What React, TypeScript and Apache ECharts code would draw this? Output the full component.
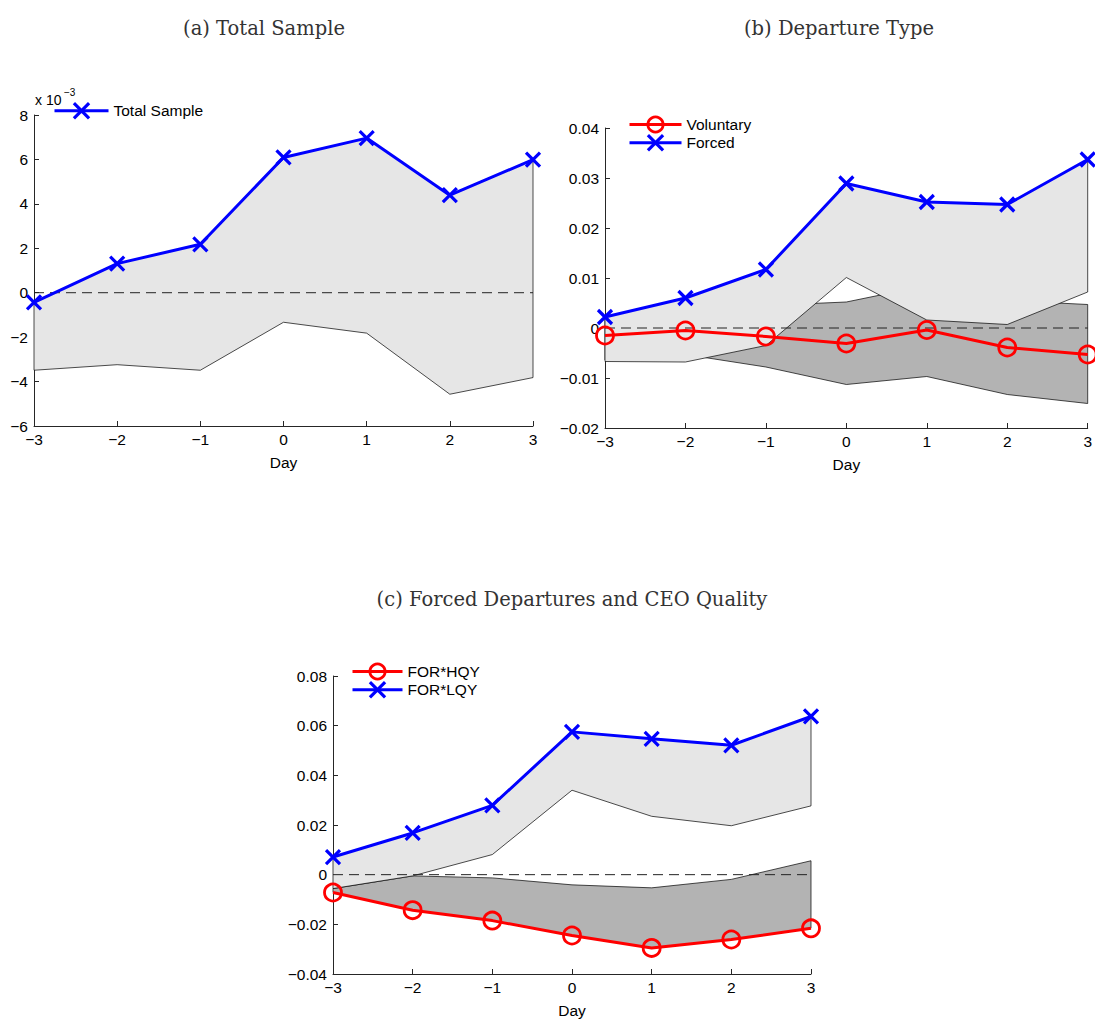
import React, { useEffect, useRef } from 'react';
import * as echarts from 'echarts';

// ---------- data ----------
const days = [-3, -2, -1, 0, 1, 2, 3];

// (a) Total Sample, values in units of 10^-3
const yTicksA = [-6, -4, -2, 0, 2, 4, 6, 8];
const totalSample = [-0.43, 1.31, 2.18, 6.09, 6.96, 4.39, 5.99];
const totalLower = [-3.49, -3.24, -3.49, -1.33, -1.82, -4.57, -3.82];

// (b) Departure Type
const yTicksB = [-0.02, -0.01, 0, 0.01, 0.02, 0.03, 0.04];
const voluntary = [-0.0015, -0.0005, -0.0017, -0.0031, -0.0004, -0.0039, -0.0053];
const voluntaryUpper = [0.002, 0.0043, 0.0045, 0.0052, 0.0085, 0.0055, 0.0047];
const voluntaryLower = [-0.0064, -0.0053, -0.0078, -0.0113, -0.0097, -0.0133, -0.0151];
const forced = [0.0022, 0.006, 0.0117, 0.0289, 0.0252, 0.0247, 0.0337];
const forcedLower = [-0.0067, -0.0068, -0.0035, 0.0101, 0.0016, 0.0007, 0.0072];

// (c) Forced Departures and CEO Quality
const yTicksC = [-0.04, -0.02, 0, 0.02, 0.04, 0.06, 0.08];
const forLQY = [0.0071, 0.0168, 0.0279, 0.0575, 0.0547, 0.0521, 0.0637];
const forLQYLower = [-0.0056, -0.0005, 0.0081, 0.034, 0.0235, 0.0197, 0.0277];
const forHQY = [-0.0072, -0.0143, -0.0185, -0.0245, -0.0295, -0.0261, -0.0216];
const forHQYUpper = [-0.0056, -0.0005, -0.0013, -0.0041, -0.0053, -0.0019, 0.0056];

const titles = ['(a) Total Sample', '(b) Departure Type', '(c) Forced Departures and CEO Quality'];

// ---------- styles ----------
const SANS = 'Liberation Sans';
const SERIF = 'DejaVu Serif';
const FS = 15.5;
const AXIS_COLOR = '#262626';
const BLUE = '#0000ff';
const RED = '#ff0000';
const LIGHT = '#e6e6e6';
const DARK = '#b3b3b3';
const X_PATH = 'path://M0,0L10,10M10,0L0,10';

const minus = (s: string) => s.replace('-', '\u2212');

const crossItemStyle = { color: BLUE, borderColor: BLUE, borderWidth: 3.2 };
const circleItemStyle = { color: 'rgba(0,0,0,0)', borderColor: RED, borderWidth: 2.8 };

function xAxis(gridIndex: number) {
  return {
    type: 'value',
    gridIndex,
    min: days[0],
    max: days[days.length - 1],
    interval: 1,
    name: 'Day',
    nameLocation: 'middle',
    nameGap: 28,
    nameTextStyle: { fontFamily: SANS, fontSize: FS, color: '#000' },
    axisLine: { show: true, onZero: false, lineStyle: { color: AXIS_COLOR, width: 1 } },
    axisTick: { show: true, inside: true, length: 5, lineStyle: { color: AXIS_COLOR } },
    axisLabel: {
      margin: 5,
      fontFamily: SANS,
      fontSize: FS,
      color: '#000',
      formatter: (v: number) => minus(String(v)),
    },
    splitLine: { show: false },
  };
}

function yAxis(gridIndex: number, ticks: number[], fmt: (v: number) => string) {
  return {
    type: 'value',
    gridIndex,
    min: ticks[0],
    max: ticks[ticks.length - 1],
    interval: ticks[1] - ticks[0],
    axisLine: { show: true, onZero: false, lineStyle: { color: AXIS_COLOR, width: 1 } },
    axisTick: { show: true, inside: true, length: 5, lineStyle: { color: AXIS_COLOR } },
    axisLabel: {
      margin: 6,
      fontFamily: SANS,
      fontSize: FS,
      color: '#000',
      formatter: (v: number) => (Math.abs(v) < 1e-9 ? '0' : minus(fmt(v))),
    },
    splitLine: { show: false },
  };
}

function band(idx: number, upper: number[], lower: number[], fill: string, z: number) {
  return {
    type: 'custom',
    name: 'band' + idx + fill,
    xAxisIndex: idx,
    yAxisIndex: idx,
    z,
    silent: true,
    data: days.map((d, i) => [d, upper[i]]),
    renderItem: (params: any, api: any) => {
      if (params.dataIndex !== 0) return null;
      const top = days.map((d, i) => api.coord([d, upper[i]]));
      const bot = days.map((d, i) => api.coord([d, lower[i]])).reverse();
      return {
        type: 'polygon',
        shape: { points: top.concat(bot) },
        style: { fill, stroke: '#000', lineWidth: 0.7 },
      };
    },
  };
}

function zeroLine(idx: number) {
  return {
    type: 'line',
    name: 'zero' + idx,
    xAxisIndex: idx,
    yAxisIndex: idx,
    z: 3,
    silent: true,
    symbol: 'none',
    data: [
      [days[0], 0],
      [days[days.length - 1], 0],
    ],
    lineStyle: { color: '#222', width: 1, type: [10, 6] },
  };
}

function crossLine(idx: number, name: string, values: number[]) {
  return {
    type: 'line',
    name,
    xAxisIndex: idx,
    yAxisIndex: idx,
    z: 5,
    data: days.map((d, i) => [d, values[i]]),
    symbol: X_PATH,
    symbolSize: 14,
    showSymbol: true,
    lineStyle: { color: BLUE, width: 3 },
    itemStyle: crossItemStyle,
    emphasis: { disabled: true },
  };
}

function circleLine(idx: number, name: string, values: number[]) {
  return {
    type: 'line',
    name,
    xAxisIndex: idx,
    yAxisIndex: idx,
    z: 5,
    data: days.map((d, i) => [d, values[i]]),
    symbol: 'circle',
    symbolSize: 17,
    showSymbol: true,
    lineStyle: { color: RED, width: 3 },
    itemStyle: circleItemStyle,
    emphasis: { disabled: true },
  };
}

function legendItem(name: string, kind: 'x' | 'o') {
  return {
    name,
    itemStyle: kind === 'x' ? crossItemStyle : circleItemStyle,
    lineStyle: { color: kind === 'x' ? BLUE : RED, width: 3 },
  };
}

function legend(items: any[], left: number, top: number, itemWidth: number) {
  return {
    data: items,
    left,
    top,
    orient: 'vertical',
    itemWidth,
    itemHeight: 19,
    itemGap: 0,
    padding: 0,
    selectedMode: false,
    textStyle: { fontFamily: SANS, fontSize: FS, color: '#000' },
  };
}

const titleFont = `19.5px "${SERIF}"`;

const option: any = {
  animation: false,
  backgroundColor: '#fff',
  grid: [
    { left: 34, top: 115, width: 499, height: 311 },
    { left: 605, top: 128, width: 484, height: 300 },
    { left: 333, top: 676, width: 478, height: 301 },
  ],
  xAxis: [xAxis(0), xAxis(1), xAxis(2)],
  yAxis: [
    yAxis(0, yTicksA, (v) => String(Math.round(v))),
    yAxis(1, yTicksB, (v) => v.toFixed(2)),
    yAxis(2, yTicksC, (v) => v.toFixed(2)),
  ],
  legend: [
    legend([legendItem('Total Sample', 'x')], 53, 101.5, 54),
    legend([legendItem('Voluntary', 'o'), legendItem('Forced', 'x')], 628, 115.5, 52),
    legend([legendItem('FOR*HQY', 'o'), legendItem('FOR*LQY', 'x')], 351, 662.5, 50),
  ],
  graphic: [
    { type: 'text', x: 264, y: 28, style: { text: titles[0], font: titleFont, fill: '#333', align: 'center', verticalAlign: 'middle' } },
    { type: 'text', x: 839, y: 28, style: { text: titles[1], font: titleFont, fill: '#333', align: 'center', verticalAlign: 'middle' } },
    { type: 'text', x: 572, y: 599, style: { text: titles[2], font: titleFont, fill: '#333', align: 'center', verticalAlign: 'middle' } },
    { type: 'text', x: 35, y: 100, style: { text: 'x 10', font: `14px "${SANS}"`, fill: '#000', align: 'left', verticalAlign: 'middle' } },
    { type: 'text', x: 64, y: 92, style: { text: '\u22123', font: `10px "${SANS}"`, fill: '#000', align: 'left', verticalAlign: 'middle' } },
  ],
  series: [
    // (a)
    band(0, totalSample, totalLower, LIGHT, 1),
    zeroLine(0),
    crossLine(0, 'Total Sample', totalSample),
    // (b)
    band(1, voluntaryUpper, voluntaryLower, DARK, 1),
    band(1, forced, forcedLower, LIGHT, 2),
    zeroLine(1),
    circleLine(1, 'Voluntary', voluntary),
    crossLine(1, 'Forced', forced),
    // (c)
    band(2, forHQYUpper, forHQY, DARK, 1),
    band(2, forLQY, forLQYLower, LIGHT, 2),
    zeroLine(2),
    circleLine(2, 'FOR*HQY', forHQY),
    crossLine(2, 'FOR*LQY', forLQY),
  ],
};

export default function App() {
  const ref = useRef<HTMLDivElement>(null);
  useEffect(() => {
    const chart = echarts.init(ref.current as HTMLDivElement, null, { renderer: 'svg' });
    chart.setOption(option);
    return () => chart.dispose();
  }, []);
  return (
    <div
      ref={ref}
      style={{ position: 'absolute', left: 0, top: 0, width: 1095, height: 1019, background: '#fff' }}
    />
  );
}
